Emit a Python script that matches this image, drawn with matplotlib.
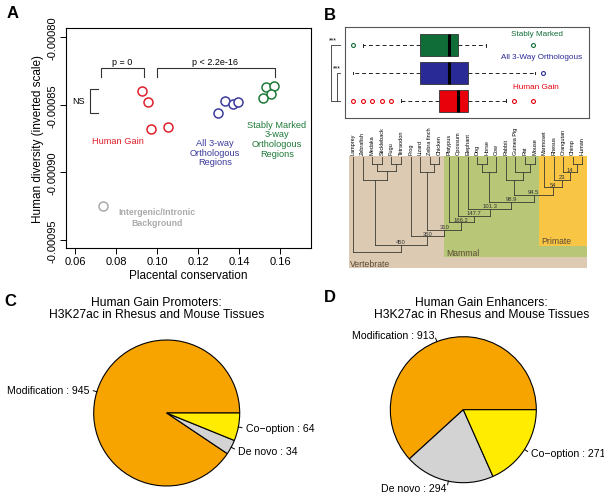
import matplotlib
matplotlib.use("Agg")
import matplotlib.pyplot as plt
import numpy as np
from matplotlib.patches import Rectangle

plt.rcParams['font.family'] = ['Liberation Sans', 'DejaVu Sans']

W, H = 604, 502

# ---- panel A data ----
gain_x = [0.0929, 0.0955, 0.0971, 0.1054]
gain_y = [-0.000840, -0.000848, -0.000868, -0.000866]
ortho_x = [0.1332, 0.1372, 0.1394, 0.1296]
ortho_y = [-0.000847, -0.000849, -0.000848, -0.000856]
stable_x = [0.1530, 0.1571, 0.1555, 0.1519]
stable_y = [-0.000837, -0.000836, -0.000842, -0.000845]
bg_x = [0.0738]
bg_y = [-0.000925]
xticks_a = [0.06, 0.08, 0.10, 0.12, 0.14, 0.16]
xtick_labels_a = ["0.06", "0.08", "0.10", "0.12", "0.14", "0.16"]
yticks_a = [-0.00080, -0.00085, -0.00090, -0.00095]
ytick_labels_a = ["-0.00080", "-0.00085", "-0.00090", "-0.00095"]

# ---- panel B data (box stats, relative position units) ----
box_names = ["Human Gain", "All 3-Way Orthologous", "Stably Marked"]
box_whislo = [23.0, 3.4, 7.5]
box_q1 = [38.4, 30.7, 30.7]
box_med = [46.3, 42.6, 42.6]
box_q3 = [50.3, 50.3, 46.4]
box_whishi = [65.9, 77.9, 57.8]
box_fliers = [[3.4, 7.3, 11.1, 15.1, 18.9, 69.3, 77.2], [81.3], [3.2, 77.2]]

species = ["Lamprey", "Zebrafish", "Medaka", "Stickleback", "Fugu", "Tetraodon",
           "Frog", "Lizard", "Zebra finch", "Chicken", "Platypus", "Opossum",
           "Elephant", "Dog", "Horse", "Cow", "Rabbit", "Guinea Pig", "Rat",
           "Mouse", "Marmoset", "Rhesus", "Orangutan", "Chimp", "Human"]
# (child, child, drawing depth, node label); nodes 25+ are earlier merges
tree_merges = [
    (2, 3, 6.7, ""), (4, 5, 6.7, ""), (25, 26, 13.3, ""), (1, 27, 22.3, ""),
    (8, 9, 6.7, ""), (7, 29, 14.3, ""),
    (13, 14, 6.7, ""), (31, 15, 15.0, ""),
    (18, 19, 6.7, ""), (17, 33, 15.0, ""), (16, 34, 22.3, ""),
    (23, 24, 6.7, ""), (22, 36, 15.0, "14"), (21, 37, 22.3, "23"), (20, 38, 30.0, "54"),
    (35, 39, 37.7, "94.5"), (32, 40, 44.3, "98.9"), (12, 41, 51.7, "101.3"),
    (11, 42, 58.3, "147.7"), (10, 43, 65.0, "166.2"), (30, 44, 72.7, "310"),
    (6, 45, 79.0, "360"), (28, 46, 87.7, "450"), (0, 47, 94.3, ""),
]
clades = ["Vertebrate", "Mammal", "Primate"]
clade_first = [0, 10, 20]
clade_depth = [111, 100, 88.4]
clade_colors = ["#dccbb2", "#b8c677", "#f8c545"]

# ---- panels C / D data ----
pie_labels = ["Modification", "De novo", "Co\u2212option"]
prom_counts = [945, 34, 64]
enh_counts = [913, 294, 271]
pie_colors = ["#f7a400", "#d3d3d3", "#ffec00"]


def rect(x0, y0, x1, y1):
    return [x0 / W, 1 - y1 / H, (x1 - x0) / W, (y1 - y0) / H]


fig = plt.figure(figsize=(W / 100, H / 100), dpi=100)

# ================= panel A =================
red, blue, green, grey = "#e0202c", "#3c3c9c", "#1f7a3a", "#aaaaaa"
ax = fig.add_axes(rect(66, 29, 311, 249))
for xs, ys, c in [(gain_x, gain_y, red), (ortho_x, ortho_y, blue),
                  (stable_x, stable_y, green), (bg_x, bg_y, grey)]:
    ax.plot(xs, ys, 'o', ms=6.5, mfc='white', mec=c, mew=1.1, ls='none')
ax.set_xlim(0.0556, 0.1751)
ax.set_ylim(-0.000956, -0.000793)
ax.set_xticks(xticks_a)
ax.set_xticklabels(xtick_labels_a, fontsize=8)
ax.set_yticks(yticks_a)
ax.set_yticklabels(ytick_labels_a, fontsize=8, rotation=90, va='center')
ax.tick_params(length=4, width=0.7, pad=2)
for s in ax.spines.values():
    s.set_linewidth(0.8)
ax.set_xlabel("Placental conservation", fontsize=8.5, labelpad=2)
ax.set_ylabel("Human diversity (inverted scale)", fontsize=8.5, labelpad=3)

bk = dict(color='#333333', lw=0.8)
ax.plot([0.0727, 0.0727, 0.0937, 0.0937], [-0.000829, -0.000823, -0.000823, -0.000829], **bk)
ax.plot([0.1000, 0.1000, 0.1576, 0.1576], [-0.000829, -0.000823, -0.000823, -0.000829], **bk)
ax.plot([0.0712, 0.0673, 0.0673, 0.0712], [-0.000838, -0.000838, -0.000856, -0.000856], **bk)
ax.text(0.0832, -0.000818, "p = 0", fontsize=6.5, ha='center', va='center')
ax.text(0.1283, -0.000818, "p < 2.2e-16", fontsize=6.5, ha='center', va='center')
ax.text(0.0617, -0.000847, "NS", fontsize=6.5, ha='center', va='center')
ax.text(0.0810, -0.000876, "Human Gain", color=red, fontsize=6.7, ha='center', va='center')
ax.text(0.1283, -0.000885, "All 3-way\nOrthologous\nRegions", color=blue, fontsize=6.7,
        ha='center', va='center', linespacing=1.1)
ax.text(0.1584, -0.000875, "Stably Marked\n3-way\nOrthologous\nRegions", color=green,
        fontsize=6.7, ha='center', va='center', linespacing=1.1)
ax.text(0.0998, -0.000933, "Intergenic/Intronic\nBackground", color=grey, fontsize=6.3,
        fontweight='bold', ha='center', va='center', linespacing=1.2)

# ================= panel B boxes =================
bx = fig.add_axes(rect(345, 28, 589, 119))
stats = []
for i in range(3):
    stats.append(dict(whislo=box_whislo[i], q1=box_q1[i], med=box_med[i], q3=box_q3[i],
                      whishi=box_whishi[i], fliers=box_fliers[i], label=box_names[i]))
box_cols = ["#e8000b", "#2a2a96", "#106d38"]
bp = bx.bxp(stats, positions=[1, 2, 3], vert=False, widths=0.8, patch_artist=True,
            showfliers=True,
            whiskerprops=dict(ls=(0, (4, 3)), lw=0.7, color='#222222'),
            capprops=dict(lw=0.7, color='#222222'),
            medianprops=dict(lw=2.2, color='black'))
for i, b in enumerate(bp['boxes']):
    b.set_facecolor(box_cols[i])
    b.set_edgecolor('#333333')
    b.set_linewidth(0.6)
for i, f in enumerate(bp['fliers']):
    f.set(marker='o', ms=2.8, mfc='none', mec=box_cols[i], mew=0.8)
for c in bp['caps']:
    yd = c.get_ydata()
    c.set_ydata([yd[0] + 0.15, yd[1] - 0.15])
bx.set_xlim(0, 100)
bx.set_ylim(0.38, 3.66)
bx.set_xticks([])
bx.set_yticks([])
for s in bx.spines.values():
    s.set_color('#555555')
    s.set_linewidth(0.8)
bx.text(78.6, 3.41, "Stably Marked", color=box_cols[2], fontsize=5.9, ha='center', va='center')
bx.text(80.6, 2.59, "All 3-Way Orthologous", color=box_cols[1], fontsize=5.9, ha='center', va='center')
bx.text(78.2, 1.52, "Human Gain", color=box_cols[0], fontsize=5.9, ha='center', va='center')
sk = dict(color='#333333', lw=0.6, clip_on=False)
bx.plot([-2.0, -5.9, -5.9, -2.0], [3, 3, 1, 1], **sk)
bx.plot([-2.0, -3.3, -3.3], [2, 2, 1], **sk)
bx.text(-4.9, 3.2, "***", fontsize=5, ha='center', va='center')
bx.text(-3.2, 2.17, "***", fontsize=5, ha='center', va='center')

# ================= panel B tree =================
tx = fig.add_axes(rect(348.5, 156.7, 587, 269.3))
tx.set_xlim(-0.5, 24.5)
tx.set_ylim(111, -1.6)
tx.axis('off')
for name, first, depth, col in zip(clades, clade_first, clade_depth, clade_colors):
    tx.add_patch(Rectangle((first - 0.5, -1.6), 24.5 - (first - 0.5), depth + 1.6,
                           facecolor=col, edgecolor='none'))
    tx.text(first - 0.5 + 0.2, depth - 5, name, fontsize=6.2, color='#5a4a35',
            ha='left', va='center')
node_x = list(range(len(species)))
node_d = [0.0] * len(species)
tl = dict(color='#3a3a32', lw=0.6)
for a, b, d, lab in tree_merges:
    xa, xb = node_x[a], node_x[b]
    tx.plot([xa, xa], [node_d[a], d], **tl)
    tx.plot([xb, xb], [node_d[b], d], **tl)
    tx.plot([xa, xb], [d, d], **tl)
    xm = (xa + xb) / 2
    node_x.append(xm)
    node_d.append(d)
    if lab:
        tx.text(xm, d - 0.6, lab, fontsize=4.2, color='#333333', ha='center', va='bottom')
for i, name in enumerate(species):
    tx.text(i, -3.4, name, fontsize=4.0, rotation=90, ha='center', va='bottom',
            clip_on=False)

# ================= panels C and D =================
def draw_pie(cx, cy, counts, title, tcx):
    R = 73.0
    k = 1.45
    s = R * k
    pa = fig.add_axes(rect(cx - s, cy - s, cx + s, cy + s))
    pa.axis('off')
    pa.pie(counts, colors=pie_colors, startangle=0, counterclock=True, radius=1,
           wedgeprops=dict(edgecolor='black', linewidth=0.8))
    pa.set_xlim(-k, k)
    pa.set_ylim(-k, k)
    tot = float(sum(counts))
    start = 0.0
    for lab, n in zip(pie_labels, counts):
        mid = np.deg2rad(360.0 * (start + n / 2.0) / tot)
        start += n
        c, sn = np.cos(mid), np.sin(mid)
        pa.plot([c, 1.05 * c], [sn, 1.05 * sn], color='black', lw=0.7, clip_on=False)
        pa.text(1.1 * c, 1.1 * sn, "%s : %d" % (lab, n), fontsize=7.6,
                ha='left' if c > 0 else 'right', va='center', clip_on=False)
    fig.text(tcx / W, 1 - 309 / H, title, fontsize=8.7, ha='center', va='center',
             linespacing=1.0)


draw_pie(166.7, 414, prom_counts,
         "Human Gain Promoters:\nH3K27ac in Rhesus and Mouse Tissues", 156.7)
draw_pie(463.3, 410.7, enh_counts,
         "Human Gain Enhancers:\nH3K27ac in Rhesus and Mouse Tissues", 481.7)

# panel letters
for lab, px, py in [("A", 13, 14), ("B", 330, 15), ("C", 10, 301), ("D", 330, 298)]:
    fig.text(px / W, 1 - py / H, lab, fontsize=12, fontweight='bold', ha='center', va='center')

fig.savefig("out.png", dpi=100)
